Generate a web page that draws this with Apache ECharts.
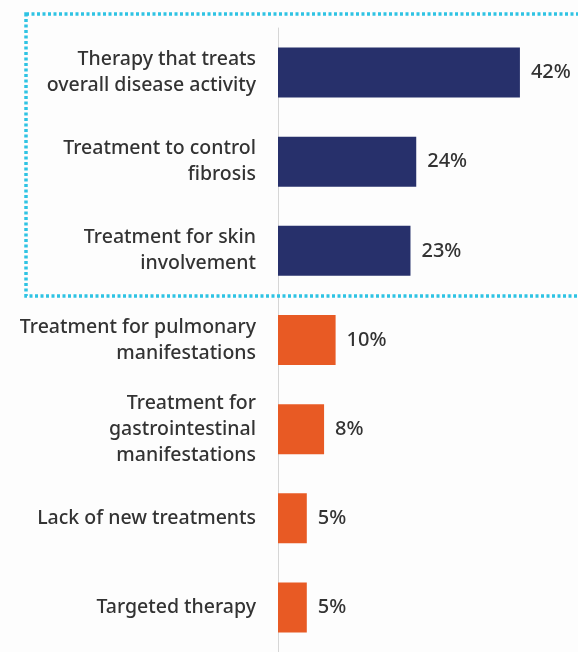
<!DOCTYPE html>
<html>
<head>
<meta charset="utf-8">
<script src="https://cdn.jsdelivr.net/npm/echarts@6/dist/echarts.min.js"></script>
<style>
  html, body { margin: 0; padding: 0; background: #fdfdfd; }
  #chart { width: 578px; height: 652px; }
</style>
</head>
<body>
<div id="chart"></div>
<script>
// Unmet needs, share of respondents (%)
const categories = [
  'Therapy that treats\noverall disease activity',
  'Treatment to control\nfibrosis',
  'Treatment for skin\ninvolvement',
  'Treatment for pulmonary\nmanifestations',
  'Treatment for\ngastrointestinal\nmanifestations',
  'Lack of new treatments',
  'Targeted therapy'
];
const values = [42, 24, 23, 10, 8, 5, 5];
// first three rows are the highlighted group
const highlightCount = 3;
const colorHighlight = '#27306b';
const colorOther = '#e85a24';

const chart = echarts.init(document.getElementById('chart'));

chart.setOption({
  animation: false,
  backgroundColor: '#fdfdfd',
  grid: { left: 278, top: 28, width: 288, height: 628, containLabel: false },
  xAxis: {
    type: 'value', min: 0, max: 50,
    show: false
  },
  yAxis: {
    type: 'category',
    data: categories,
    inverse: true,
    axisLine: { show: true, lineStyle: { color: '#d6d6d6', width: 1 } },
    axisTick: { show: false },
    axisLabel: {
      margin: 22,
      color: '#333333',
      fontFamily: 'Noto Sans',
      fontWeight: 500,
      fontSize: 19.5,
      lineHeight: 26,
      align: 'right'
    }
  },
  series: [{
    type: 'bar',
    data: values.map((v, i) => ({
      value: v,
      itemStyle: { color: i < highlightCount ? colorHighlight : colorOther }
    })),
    barWidth: 50,
    label: {
      show: true,
      position: 'right',
      distance: 11,
      formatter: '{c}%',
      color: '#333333',
      fontFamily: 'Noto Sans',
      fontWeight: 500,
      fontSize: 20
    }
  }],
  graphic: [{
    type: 'rect',
    shape: { x: 26, y: 14, width: 580, height: 282 },
    style: {
      fill: 'none',
      stroke: '#2fc3e3',
      lineWidth: 3.5,
      lineDash: [3, 2.5]
    },
    z: 10
  }]
});
</script>
</body>
</html>
